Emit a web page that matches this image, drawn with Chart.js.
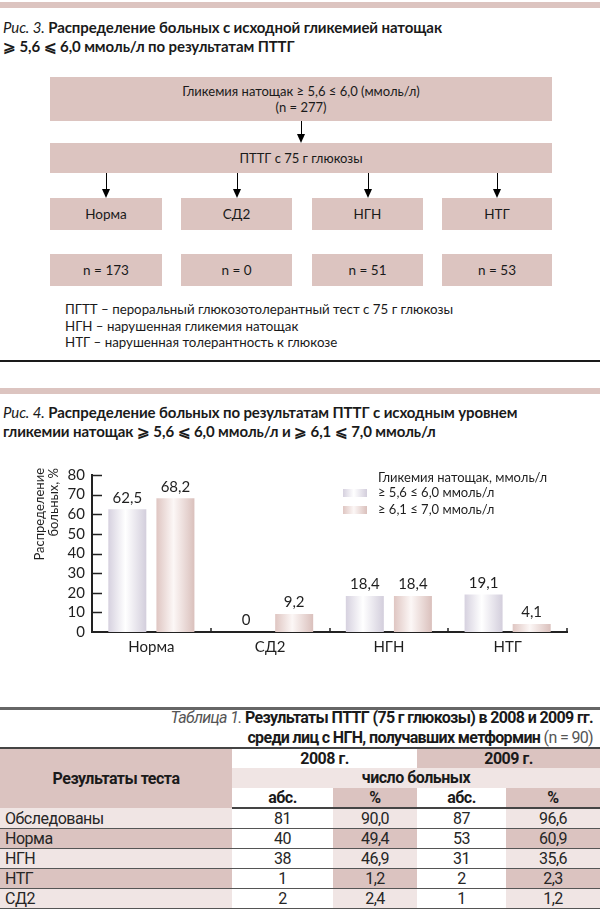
<!DOCTYPE html>
<html lang="ru">
<head>
<meta charset="utf-8">
<script src="https://cdn.jsdelivr.net/npm/chart.js@4.4.1/dist/chart.umd.min.js"></script>
<style>
  body { margin: 0; width: 600px; height: 911px; overflow: hidden; background: #fff; position: relative;
         font-family: Lato, "Noto Sans", sans-serif; color: #1a1a1a; }
  .abs { position: absolute; }
  .band { left: 0; width: 600px; height: 6px; background: #dcc4c0; }
  .rule { left: 0; width: 600px; height: 2px; background: #1a1a1a; }
  .title { left: 3px; font-size: 15px; font-weight: 700; line-height: 19px; white-space: nowrap; letter-spacing: -0.1px; }
  .title i { font-weight: 400; }
  .box { background: #dcc4c0; display: flex; align-items: center; justify-content: center;
         text-align: center; font-size: 13px; line-height: 16px; }
  .notes { left: 65px; top: 301px; font-size: 13.3px; line-height: 16.5px; }
  .arrow .ln { position: absolute; left: 4px; top: 0; width: 1px; background: #000; }
  .arrow .hd { position: absolute; left: 0; bottom: 0; width: 0; height: 0;
               border-left: 4.5px solid transparent; border-right: 4.5px solid transparent; border-top: 9px solid #000; }
  #chartWrap { left: 0; top: 440px; width: 600px; height: 230px; }
  .ttl { right: 7px; font-family: Roboto, "Liberation Sans", sans-serif; font-size: 16px; letter-spacing: -0.65px;
         line-height: 20px; text-align: right; white-space: nowrap; }
  .ttl i { color: #555; font-weight: 400; }
  .ttl b { font-weight: 700; }
  .ttl span { color: #555; }
  table { position: absolute; left: 0; top: 747px; width: 600px; border-collapse: collapse; table-layout: fixed;
          font-family: Roboto, "Liberation Sans", sans-serif; font-size: 16px; letter-spacing: -0.5px; color: #262626; }
  td { padding: 0; height: 19px; line-height: 19px; text-align: center; white-space: nowrap; }
  tr.hd td { font-weight: 700; color: #1a1a1a; }
  tr.first td { border-top: 2px solid #444; }
  tr.sep td { border-bottom: 2px solid #444; }
  tr.data td { border-bottom: 1.5px solid #555; height: 19px; }
  td.lab { text-align: left; padding-left: 5px; }
  .dk { background: #dbc3c0; }
  .lt { background: #f0e5e4; }
</style>
</head>
<body>

<div class="abs band" style="top:2px"></div>
<div class="abs title" style="top:18px"><i>Рис. 3.</i> Распределение больных с исходной гликемией натощак<br>⩾ 5,6 ⩽ 6,0 ммоль/л по результатам ПТТГ</div>

<div class="abs box" style="left:50px;top:77px;width:502px;height:44px">Гликемия натощак ≥ 5,6 ≤ 6,0 (ммоль/л)<br>(n = 277)</div>
<div class="abs box" style="left:50px;top:143px;width:502px;height:30px">ПТТГ с 75 г глюкозы</div>
<div id="flow"></div>
<div class="abs notes">ПГТТ – пероральный глюкозотолерантный тест с 75 г глюкозы<br>НГН – нарушенная гликемия натощак<br>НТГ – нарушенная толерантность к глюкозе</div>

<div class="abs rule" style="top:360px"></div>
<div class="abs band" style="top:388px"></div>
<div class="abs title" style="top:403px"><i>Рис. 4.</i> Распределение больных по результатам ПТТГ с исходным уровнем<br>гликемии натощак ⩾ 5,6 ⩽ 6,0 ммоль/л и ⩾ 6,1 ⩽ 7,0 ммоль/л</div>

<div class="abs" id="chartWrap"><canvas id="fig4"></canvas></div>

<div class="abs" style="left:0;top:707px;width:600px;height:3px;background:#666"></div>
<div class="abs ttl" style="top:708px"><i>Таблица 1.</i> <b>Результаты ПТТГ (75 г глюкозы) в 2008 и 2009 гг.</b><br><b>среди лиц с НГН, получавших метформин</b> <span>(n = 90)</span></div>
<table id="tbl"></table>

<script>
// --- Fig. 4 data ---
const categories = ['Норма', 'СД2', 'НГН', 'НТГ'];
const fastingLow = [62.5, 0, 18.4, 19.1];    // >= 5,6 <= 6,0
const fastingHigh = [68.2, 9.2, 18.4, 4.1];  // >= 6,1 <= 7,0
const seriesLabels = ['≥ 5,6 ≤ 6,0 ммоль/л', '≥ 6,1 ≤ 7,0 ммоль/л'];
const legendTitle = 'Гликемия натощак, ммоль/л';
const yTitle = ['Распределение', 'больных, %'];
const yMax = 80;
const yStep = 10;

// --- Fig. 3 boxes ---
const groups = ['Норма', 'СД2', 'НГН', 'НТГ'];
const groupN = [173, 0, 51, 53];

// --- Table 1 ---
const rowNames = ['Обследованы', 'Норма', 'НГН', 'НТГ', 'СД2'];
const abs2008 = [81, 40, 38, 1, 2];
const pct2008 = ['90,0', '49,4', '46,9', '1,2', '2,4'];
const abs2009 = [87, 53, 31, 2, 1];
const pct2009 = ['96,6', '60,9', '35,6', '2,3', '1,2'];

const FONT = 'Lato, "Noto Sans", sans-serif';
const INK = '#1f1f1f';
const gradStops = [
    [[0, '#d6d1df'], [0.45, '#ffffff'], [1, '#d3cedc']],
    [[0, '#dfc6c2'], [0.45, '#fcf7f6'], [1, '#dac0bc']]
];

// flowchart boxes + arrows
(function () {
    const flow = document.getElementById('flow');
    const lefts = [50, 181, 312, 442];
    const widths = [112, 111, 111, 110];
    let html = '';
    groups.forEach((g, i) => {
        html += `<div class="abs box" style="left:${lefts[i]}px;top:198px;width:${widths[i]}px;height:32px;font-size:13.5px">${g}</div>`;
        html += `<div class="abs box" style="left:${lefts[i]}px;top:254px;width:${widths[i]}px;height:32px;font-size:13.5px">n = ${groupN[i]}</div>`;
    });
    const arrows = [[301, 121, 143]].concat(lefts.map((l, i) => [Math.round(l + widths[i] / 2), 173, 198]));
    arrows.forEach(([x, y1, y2]) => {
        const h = y2 - y1;
        html += `<div class="abs arrow" style="left:${x - 4}px;top:${y1}px;width:9px;height:${h}px">` +
                `<div class="ln" style="height:${h - 6}px"></div><div class="hd"></div></div>`;
    });
    flow.innerHTML = html;
})();

// table
(function () {
    const t = document.getElementById('tbl');
    let html = '<colgroup><col style="width:232px"><col style="width:101px"><col style="width:84px"><col style="width:89px"><col style="width:94px"></colgroup>';
    html += '<tr class="hd first"><td rowspan="3" class="dk" style="height:59px">Результаты теста</td>' +
            '<td colspan="2">2008 г.</td><td colspan="2" class="dk">2009 г.</td></tr>';
    html += '<tr class="hd"><td colspan="4" class="lt">число больных</td></tr>';
    html += '<tr class="hd sep"><td>абс.</td><td class="dk">%</td><td>абс.</td><td class="dk">%</td></tr>';
    rowNames.forEach((name, i) => {
        const c = i % 2 ? 'dk' : 'lt';
        html += `<tr class="data"><td class="lab ${c}">${name}</td><td>${abs2008[i]}</td>` +
                `<td class="${c}">${pct2008[i]}</td><td>${abs2009[i]}</td><td class="${c}">${pct2009[i]}</td></tr>`;
    });
    t.innerHTML = html;
})();

const fmt = v => Number.isInteger(v) ? String(v) : v.toFixed(1).replace('.', ',');

// gradient fill for each bar, built from the bar geometry
const barShade = {
    id: 'barShade',
    beforeDatasetsDraw(chart) {
        const ctx = chart.ctx;
        chart.data.datasets.forEach((ds, i) => {
            chart.getDatasetMeta(i).data.forEach(bar => {
                const g = ctx.createLinearGradient(bar.x - bar.width / 2, 0, bar.x + bar.width / 2, 0);
                gradStops[i].forEach(([o, c]) => g.addColorStop(o, c));
                bar.options = Object.assign({}, bar.options, { backgroundColor: g });
            });
        });
    }
};

// value labels, inward ticks, y title, legend
const decor = {
    id: 'decor',
    afterDatasetsDraw(chart) {
        const { ctx, chartArea, scales: { x, y } } = chart;
        ctx.save();
        ctx.fillStyle = INK;
        ctx.font = `15px ${FONT}`;
        ctx.textAlign = 'center';
        ctx.textBaseline = 'bottom';
        chart.data.datasets.forEach((ds, i) => {
            chart.getDatasetMeta(i).data.forEach((bar, j) => {
                ctx.fillText(fmt(ds.data[j]), bar.x, bar.y - 4);
            });
        });

        ctx.strokeStyle = '#222';
        ctx.lineWidth = 1.5;
        ctx.beginPath();
        for (let v = yStep; v <= yMax; v += yStep) {
            const py = Math.round(y.getPixelForValue(v)) + 0.5;
            ctx.moveTo(chartArea.left, py);
            ctx.lineTo(chartArea.left + 10, py);
        }
        for (let i = 0; i < categories.length; i++) {
            const px = Math.round(x.getPixelForValue(i + 0.5));
            ctx.moveTo(px, chartArea.bottom);
            ctx.lineTo(px, chartArea.bottom - 4);
        }
        ctx.stroke();

        // y title, both lines ending at the top
        ctx.font = `13px ${FONT}`;
        ctx.textAlign = 'right';
        ctx.textBaseline = 'middle';
        yTitle.forEach((line, k) => {
            ctx.save();
            ctx.translate(40 + k * 14, 28);
            ctx.rotate(-Math.PI / 2);
            ctx.fillText(line, 0, 0);
            ctx.restore();
        });

        // legend
        ctx.textAlign = 'left';
        ctx.fillText(legendTitle, 378, 38);
        seriesLabels.forEach((lab, i) => {
            const sy = 53 + i * 17;
            const g = ctx.createLinearGradient(343, 0, 367, 0);
            gradStops[i].forEach(([o, c]) => g.addColorStop(o, c));
            ctx.fillStyle = g;
            ctx.fillRect(343, sy - 4, 24, 8);
            ctx.fillStyle = INK;
            ctx.fillText(lab, 378, sy);
        });
        ctx.restore();
    }
};

Chart.defaults.font.family = FONT;
Chart.defaults.color = INK;

new Chart(document.getElementById('fig4'), {
    type: 'bar',
    data: {
        labels: categories,
        datasets: [
            { label: seriesLabels[0], data: fastingLow, backgroundColor: '#e8e5ee', borderWidth: 0,
              categoryPercentage: 0.81, barPercentage: 0.79 },
            { label: seriesLabels[1], data: fastingHigh, backgroundColor: '#ecdcda', borderWidth: 0,
              categoryPercentage: 0.81, barPercentage: 0.79 }
        ]
    },
    options: {
        responsive: true,
        maintainAspectRatio: false,
        animation: false,
        events: [],
        layout: { padding: { top: 35, right: 33, left: 0, bottom: 0 } },
        plugins: { legend: { display: false }, tooltip: { enabled: false } },
        scales: {
            x: {
                grid: { display: false, drawTicks: false },
                border: { display: true, color: '#222', width: 2 },
                ticks: { font: { size: 15 }, color: INK, padding: 6 },
                afterFit: s => { s.height = 38; }
            },
            y: {
                min: 0, max: yMax,
                grid: { display: false, drawTicks: false },
                border: { display: true, color: '#222', width: 2 },
                ticks: { stepSize: yStep, autoSkip: false, font: { size: 15 }, color: INK, padding: 7 },
                afterFit: s => { s.width = 92; }
            }
        }
    },
    plugins: [barShade, decor]
});
</script>
</body>
</html>
